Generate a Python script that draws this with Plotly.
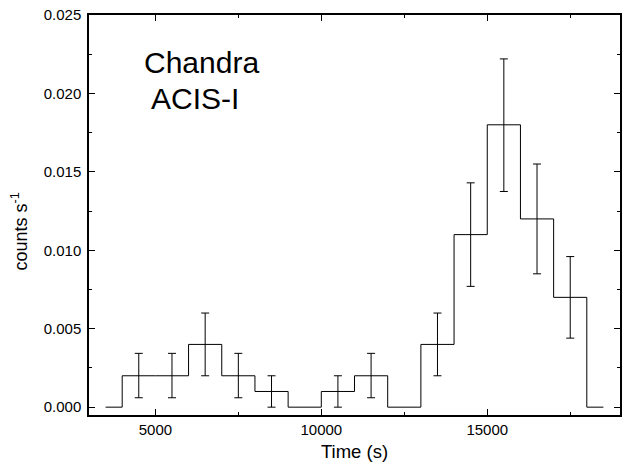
import plotly.graph_objects as go

# Data
bin_starts = [4000, 5000, 6000, 7000, 8000, 9000, 10000, 11000, 12000, 13000, 14000, 15000, 16000, 17000]
rates = [0.002, 0.002, 0.004, 0.002, 0.001, 0.0, 0.001, 0.002, 0.0, 0.004, 0.011, 0.018, 0.012, 0.007]
bin_width = 1000
lead_start = 3500
tail_end = 18500

err_centers = [4500, 5500, 6500, 7500, 8500, 10500, 11500, 13500, 14500, 15500, 16500, 17500]
err_vals = [0.002, 0.002, 0.004, 0.002, 0.001, 0.001, 0.002, 0.004, 0.011, 0.018, 0.012, 0.007]
err_hi = [0.00343, 0.00343, 0.0060, 0.00343, 0.0020, 0.0020, 0.00343, 0.0060, 0.0143, 0.0222, 0.0155, 0.0096]
err_lo = [0.0006, 0.0006, 0.0020, 0.0006, 0.0, 0.0, 0.0006, 0.0020, 0.0077, 0.01375, 0.0085, 0.0044]

FONT = "Arial, 'Liberation Sans', sans-serif"

# step line
sx = [lead_start] + bin_starts + [bin_starts[-1] + bin_width, tail_end]
sy = [0.0] + rates + [0.0, 0.0]

fig = go.Figure()
fig.add_trace(go.Scatter(x=sx, y=sy, mode="lines", line=dict(shape="hv", color="black", width=1),
                         showlegend=False, hoverinfo="skip"))
fig.add_trace(go.Scatter(
    x=err_centers, y=err_vals, mode="markers", marker=dict(size=0.1, color="rgba(0,0,0,0)"),
    error_y=dict(type="data", symmetric=False,
                 array=[h - v for h, v in zip(err_hi, err_vals)],
                 arrayminus=[v - l for v, l in zip(err_vals, err_lo)],
                 color="black", thickness=1, width=4),
    showlegend=False, hoverinfo="skip"))

axis_common = dict(showline=True, linecolor="black", linewidth=1.5, mirror="allticks",
                   ticks="inside", ticklen=6, tickwidth=1.2, tickcolor="black",
                   showgrid=False, zeroline=False,
                   tickfont=dict(family=FONT, size=15, color="black"))

fig.update_xaxes(range=[3000, 19000], tick0=0, dtick=5000, tickformat="d",
                 minor=dict(ticks="inside", ticklen=3, dtick=2500, tick0=0, tickcolor="black"),
                 title=dict(text="Time (s)", font=dict(family=FONT, size=18.5, color="black"), standoff=8),
                 ticklabelstandoff=0, **axis_common)
fig.update_yaxes(range=[-0.0005, 0.025], tick0=0, dtick=0.005, tickformat=".3f",
                 minor=dict(ticks="inside", ticklen=3, dtick=0.0025, tick0=0, tickcolor="black"),
                 ticklabelstandoff=3, **axis_common)

fig.add_annotation(text="counts s<sup>-1</sup>", xref="paper", yref="paper", x=-0.131, y=0.46,
                   xanchor="center", yanchor="middle", textangle=-90, showarrow=False,
                   font=dict(family=FONT, size=18, color="black"))

fig.add_annotation(text="Chandra", xref="paper", yref="paper", x=0.0995, y=0.8825,
                   xanchor="left", yanchor="middle", showarrow=False,
                   font=dict(family=FONT, size=30, color="black"))
fig.add_annotation(text="ACIS-I", xref="paper", yref="paper", x=0.1125, y=0.792,
                   xanchor="left", yanchor="middle", showarrow=False,
                   font=dict(family=FONT, size=30, color="black"))

fig.update_layout(width=624, height=468, margin=dict(l=89, r=2, t=15, b=53),
                  paper_bgcolor="white", plot_bgcolor="white")

fig.write_html("out.html")
